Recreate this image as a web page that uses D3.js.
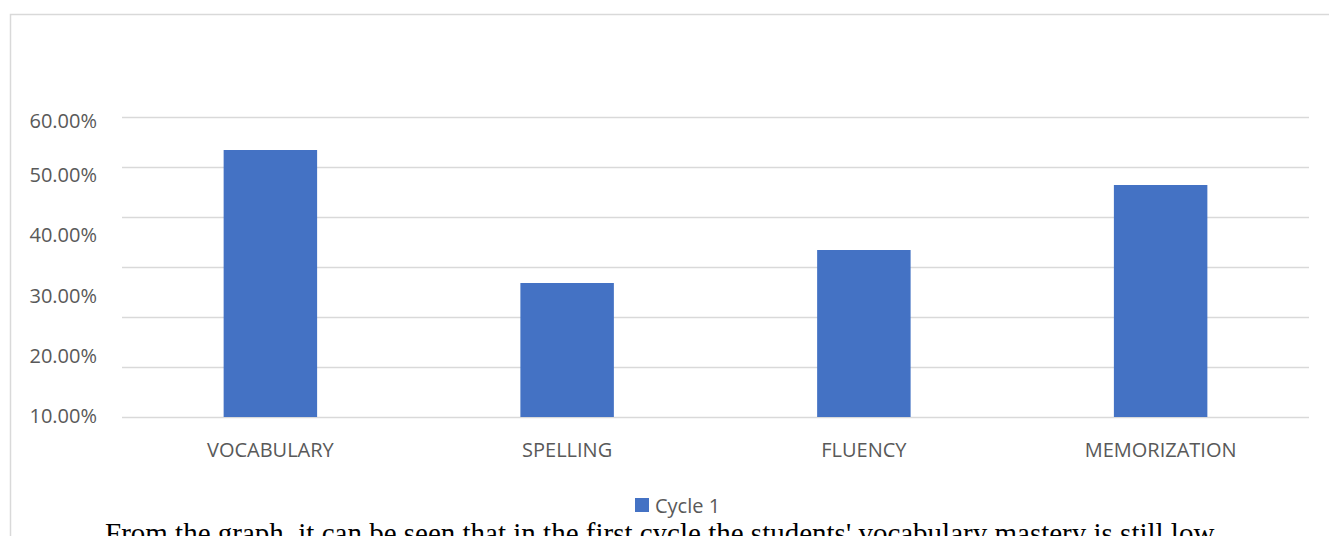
<!DOCTYPE html>
<html>
<head>
<meta charset="utf-8">
<script src="https://cdn.jsdelivr.net/npm/d3@7"></script>
<style>
  body { margin: 0; background: #fff; overflow: hidden; }
  svg { display: block; }
</style>
</head>
<body>
<div id="chart"></div>
<script>
// data
const categories = ['VOCABULARY', 'SPELLING', 'FLUENCY', 'MEMORIZATION'];
const cycle1 = [0.534, 0.268, 0.334, 0.464];
const gridValues = [0, 0.1, 0.2, 0.3, 0.4, 0.5, 0.6];
const tickLabels = ['10.00%', '20.00%', '30.00%', '40.00%', '50.00%', '60.00%'];
const seriesName = 'Cycle 1';
const caption = "From the graph, it can be seen that in the first cycle the students' vocabulary mastery is still low.";

const width = 1329;
const height = 536;
const textColor = '#595959';
const barColor = '#4472c4';
const font = "'Open Sans', sans-serif";
const fontSize = '20px';

const svg = d3.select('#chart')
  .append('svg')
  .attr('width', width)
  .attr('height', height);

// chart frame (left + top edges visible)
svg.append('path')
  .attr('d', `M10.5,${height} V14.5 H${width}`)
  .attr('fill', 'none')
  .attr('stroke', '#d9d9d9')
  .attr('stroke-width', 1.5);

const x = d3.scaleBand()
  .domain(categories)
  .range([122, 1309])
  .paddingInner(0.685)
  .paddingOuter(0.3425);

const y = d3.scaleLinear()
  .domain([0, 0.6])
  .range([417, 117]);

// the printed labels don't sit on the gridlines in the original
const yLabel = d3.scaleLinear()
  .domain([0.1, 0.5])
  .range([416, 175]);

// gridlines
svg.append('g')
  .attr('class', 'grid')
  .attr('transform', 'translate(122,0)')
  .call(d3.axisLeft(y).tickValues(gridValues).tickSize(-(1309 - 122)).tickFormat(''))
  .call(g => g.select('.domain').remove())
  .call(g => g.selectAll('line').attr('stroke', '#d9d9d9').attr('stroke-width', 1.5));

// y labels
svg.append('g')
  .attr('class', 'y-axis')
  .selectAll('text')
  .data(tickLabels)
  .enter()
  .append('text')
  .attr('x', 97)
  .attr('y', (d, i) => i === tickLabels.length - 1 ? y(0.6) + 4 : yLabel(parseFloat(d) / 100))
  .attr('dy', '0.35em')
  .attr('text-anchor', 'end')
  .attr('fill', textColor)
  .style('font-family', font)
  .style('font-size', fontSize)
  .text(d => d);

// bars
svg.selectAll('.bar')
  .data(categories)
  .enter()
  .append('rect')
  .attr('class', 'bar')
  .attr('x', d => x(d))
  .attr('y', (d, i) => y(cycle1[i]))
  .attr('width', x.bandwidth())
  .attr('height', (d, i) => y(0) - y(cycle1[i]))
  .attr('fill', barColor);

// category axis
svg.append('g')
  .attr('class', 'x-axis')
  .attr('transform', `translate(0,${y(0)})`)
  .call(d3.axisBottom(x).tickSize(0).tickPadding(26))
  .call(g => g.select('.domain').remove())
  .call(g => g.selectAll('text')
    .attr('fill', textColor)
    .style('font-family', font)
    .style('font-size', fontSize));

// legend
const legend = svg.append('g').attr('transform', 'translate(635,498)');
legend.append('rect')
  .attr('width', 14)
  .attr('height', 14)
  .attr('fill', barColor);
legend.append('text')
  .attr('x', 20)
  .attr('y', 14.5)
  .attr('fill', textColor)
  .style('font-family', font)
  .style('font-size', fontSize)
  .text(seriesName);

// document text under the chart (cut by the page edge, as in the original)
svg.append('text')
  .attr('x', 105)
  .attr('y', 543)
  .attr('fill', '#000')
  .style('font-family', "'Liberation Serif', 'Times New Roman', serif")
  .style('font-size', '29px')
  .text(caption);
</script>
</body>
</html>
